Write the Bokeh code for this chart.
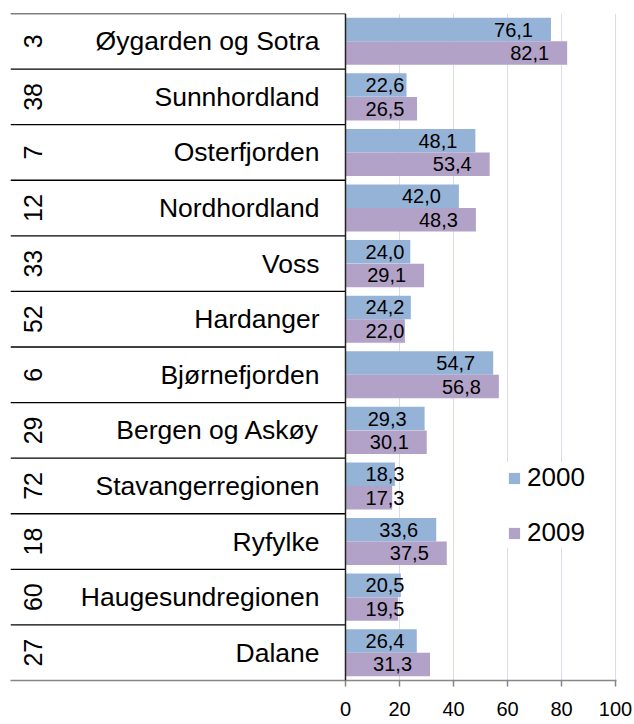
import math
from bokeh.plotting import figure
from bokeh.models import (FactorRange, Range1d, ColumnDataSource, FixedTicker,
                          Span, Legend, LegendItem)
from bokeh.transform import dodge
from bokeh.core.properties import value
from bokeh.embed import file_html
from bokeh.resources import INLINE

# ---- data ----
regions = ["Øygarden og Sotra", "Sunnhordland", "Osterfjorden", "Nordhordland",
           "Voss", "Hardanger", "Bjørnefjorden", "Bergen og Askøy",
           "Stavangerregionen", "Ryfylke", "Haugesundregionen", "Dalane"]
ranks = ["3", "38", "7", "12", "33", "52", "6", "29", "72", "18", "60", "27"]
v2000 = [76.1, 22.6, 48.1, 42.0, 24.0, 24.2, 54.7, 29.3, 18.3, 33.6, 20.5, 26.4]
v2009 = [82.1, 26.5, 53.4, 48.3, 29.1, 22.0, 56.8, 30.1, 17.3, 37.5, 19.5, 31.3]
years = ["2000", "2009"]
x_ticks = [0, 20, 40, 60, 80, 100]

BLUE = "#95b3d7"
PURPLE = "#b3a2c7"
FONT = "Liberation Sans"

PX = 2.7                 # pixels per unit
X_START = -335 / PX      # frame left edge (table area)
X_END = 271 / PX         # frame right edge


def fmt(v):
    return f"{v:.1f}".replace(".", ",")


src = ColumnDataSource(dict(
    region=regions,
    rank=ranks,
    v2000=v2000,
    v2009=v2009,
    l2000=[fmt(v) for v in v2000],
    l2009=[fmt(v) for v in v2009],
    lx2000=[max(v, 28.5) for v in v2000],
    lx2009=[max(v, 28.5) for v in v2009],
))

p = figure(y_range=FactorRange(factors=regions[::-1]),
           x_range=Range1d(X_START, X_END),
           frame_width=606, frame_height=667,
           min_border_left=10, min_border_right=18,
           min_border_top=13, min_border_bottom=0,
           y_axis_location=None,
           output_backend="svg", toolbar_location=None,
           outline_line_color=None, background_fill_color="white",
           border_fill_color="white")

# grid
p.xgrid.ticker = FixedTicker(ticks=x_ticks[1:])
p.xgrid.grid_line_color = "#d9d9f8"
p.xgrid.grid_line_width = 1
p.ygrid.visible = False

# x axis
p.xaxis.ticker = FixedTicker(ticks=x_ticks)
p.xaxis.axis_line_color = "#868686"
p.xaxis.axis_line_width = 1.5
p.xaxis.major_tick_line_color = "#868686"
p.xaxis.major_tick_line_width = 1.5
p.xaxis.major_tick_out = 6
p.xaxis.major_tick_in = 0
p.xaxis.minor_tick_line_color = None
p.xaxis.major_label_text_font = FONT
p.xaxis.major_label_text_font_size = "20px"
p.xaxis.major_label_text_color = "black"
p.xaxis.major_label_standoff = 15

off = 0.212
h = 0.423
y_top = dodge("region", off, range=p.y_range)
y_bot = dodge("region", -off, range=p.y_range)

r1 = p.hbar(y=y_top, left=0, right="v2000", height=h, source=src,
            fill_color=BLUE, line_color=None)
r2 = p.hbar(y=y_bot, left=0, right="v2009", height=h, source=src,
            fill_color=PURPLE, line_color=None)

# value labels
for ycol, xcol, tcol in ((y_top, "lx2000", "l2000"), (y_bot, "lx2009", "l2009")):
    p.text(x=xcol, y=ycol, text=tcol, source=src, x_offset=-18,
           text_align="right", text_baseline="middle",
           text_font=value(FONT), text_font_size=value("20px"),
           text_color="black")

# table lines
p.segment(x0=X_START, x1=0,
          y0=dodge("region", 0.5, range=p.y_range),
          y1=dodge("region", 0.5, range=p.y_range),
          source=src, line_color="black", line_width=1.3)
p.add_layout(Span(location=0, dimension="height", line_color="#222222",
                  line_width=1.5))

# table texts
p.text(x=0, y="region", text="region", source=src, x_offset=-26,
       text_align="right", text_baseline="middle",
       text_font=value(FONT), text_font_size=value("26.5px"), text_color="black")
p.text(x=0, y="region", text="rank", source=src, x_offset=-313,
       angle=math.pi / 2, text_align="center", text_baseline="middle",
       text_font=value(FONT), text_font_size=value("25px"), text_color="black")

legend = Legend(items=[LegendItem(label=years[0], renderers=[r1]),
                       LegendItem(label=years[1], renderers=[r2])],
                location=(497, 132), orientation="vertical",
                glyph_width=14, glyph_height=14, label_height=30,
                label_standoff=6, spacing=24, padding=8, margin=0,
                label_text_font=FONT, label_text_font_size="26px",
                label_text_color="black",
                border_line_color=None, background_fill_color="white",
                background_fill_alpha=1.0)
p.add_layout(legend)

open("out.html", "w").write(file_html(p, INLINE))
